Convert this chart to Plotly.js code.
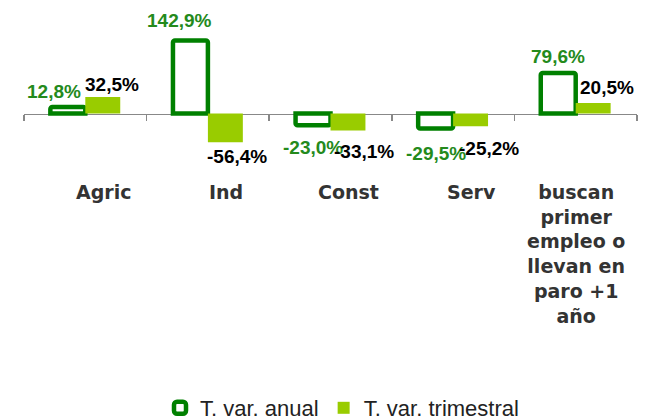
<!DOCTYPE html>
<html>
<head>
<meta charset="utf-8">
<script src="https://cdn.plot.ly/plotly-3.0.1.min.js"></script>
<style>html,body{margin:0;padding:0;background:#fff;}#chart{width:646px;height:420px;}</style>
</head>
<body>
<div id="chart"></div>
<script>
// ---- data ----
const categories = ['Agric', 'Ind', 'Const', 'Serv', 'buscan primer empleo o llevan en paro +1 año'];
const categoryLabels = ['Agric', 'Ind', 'Const', 'Serv', 'buscan<br>primer<br>empleo o<br>llevan en<br>paro +1<br>año'];
const anual = [12.8, 142.9, -23.0, -29.5, 79.6];
const trimestral = [32.5, -56.4, -33.1, -25.2, 20.5];
const seriesNames = ['T. var. anual', 'T. var. trimestral'];

// ---- styling / layout helpers ----
const W = 646, H = 420;
const L = 24, R = 9;
const yRange = [-70, 160];
const yDomain = [(H - 149.2) / H, (H - 31.9) / H];
const zeroPos = yDomain[0] + (0 - yRange[0]) / (yRange[1] - yRange[0]) * (yDomain[1] - yDomain[0]);
const bargap = 0.43;
const barOffset = (1 - bargap) / 4;
const fmt = v => v.toFixed(1).replace('.', ',') + '%';

// label nudges (pixels, screen-down positive) relative to bar ends
const anualDx = [-14, -11, 0, 0, 0], anualDy = [-15, -20, 22, 25, -16];
const trimDx = [9, 12, 16, 18, 14], trimDy = [-12, 14, 21, 22, -16];
const catShift = [18, 18, 18, 18, 0];

const labelFont = {family: 'Liberation Sans, Arial, sans-serif', size: 19, weight: 'bold'};

const annotations = [];
anual.forEach((v, i) => annotations.push({
  x: i - barOffset, y: v, xref: 'x', yref: 'y', text: fmt(v), showarrow: false,
  xanchor: 'center', yanchor: 'middle', xshift: anualDx[i], yshift: -anualDy[i],
  font: Object.assign({}, labelFont, {color: '#248a1c'})
}));
trimestral.forEach((v, i) => annotations.push({
  x: i + barOffset, y: v, xref: 'x', yref: 'y', text: fmt(v), showarrow: false,
  xanchor: 'center', yanchor: 'middle', xshift: trimDx[i], yshift: -trimDy[i],
  font: Object.assign({}, labelFont, {color: '#000000'})
}));
categoryLabels.forEach((t, i) => annotations.push({
  x: i, y: (H - 179) / H, xref: 'x', yref: 'paper', text: t, showarrow: false,
  xanchor: 'center', yanchor: 'top', xshift: catShift[i], align: 'center',
  font: {family: 'DejaVu Sans, sans-serif', size: 19, weight: 'bold', color: '#333333'}
}));

const traces = [
  {
    type: 'bar', name: seriesNames[0], x: categories, y: anual,
    marker: {color: '#ffffff', line: {color: '#008000', width: 4.5}, cornerradius: 2},
    hoverinfo: 'skip'
  },
  {
    type: 'bar', name: seriesNames[1], x: categories, y: trimestral,
    marker: {color: '#99cc00', line: {width: 0}},
    hoverinfo: 'skip'
  }
];

const layout = {
  width: W, height: H,
  margin: {l: L, r: R, t: 0, b: 0, autoexpand: false},
  paper_bgcolor: '#ffffff', plot_bgcolor: 'rgba(0,0,0,0)',
  barmode: 'group', bargap: bargap, bargroupgap: 0,
  showlegend: true,
  legend: {
    orientation: 'h', xref: 'paper', yref: 'paper',
    x: (342 - L) / (W - L - R), xanchor: 'center', y: (H - 408) / H, yanchor: 'middle',
    font: {family: 'Liberation Sans, Arial, sans-serif', size: 22, color: '#222222'},
    itemwidth: 30, bgcolor: 'rgba(0,0,0,0)', borderwidth: 0
  },
  xaxis: {
    type: 'category', anchor: 'free', position: zeroPos, layer: 'below traces',
    showline: true, linecolor: '#888888', linewidth: 1.5,
    ticks: 'outside', ticklen: 6, tickcolor: '#888888', tickwidth: 1.5,
    tickson: 'boundaries', showticklabels: false, showgrid: false, zeroline: false,
    range: [-0.5, categories.length - 0.5], fixedrange: true
  },
  yaxis: {
    range: yRange, domain: yDomain, visible: false, showgrid: false, zeroline: false, fixedrange: true
  },
  annotations: annotations
};

Plotly.newPlot('chart', traces, layout, {staticPlot: true, displayModeBar: false});
</script>
</body>
</html>
